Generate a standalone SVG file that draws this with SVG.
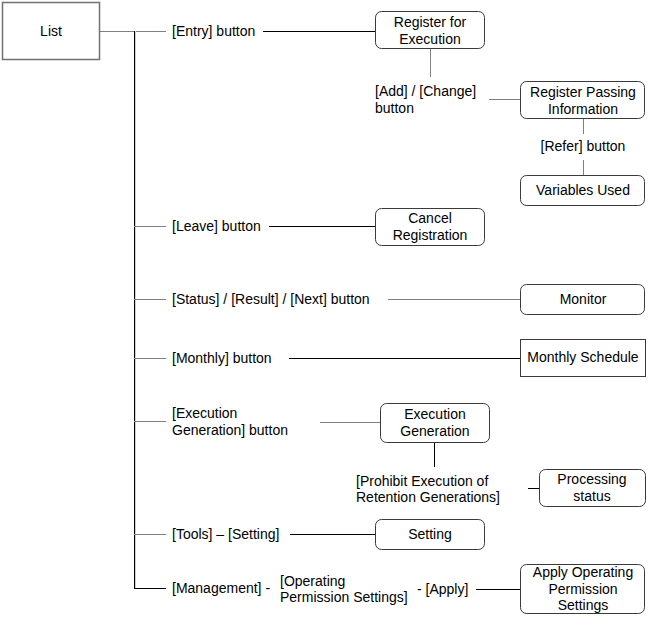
<svg xmlns="http://www.w3.org/2000/svg" width="651" height="625" viewBox="0 0 651 625">
<style>
text{font-family:"Liberation Sans",Arial,sans-serif;font-size:14px;fill:#000}
.c{text-anchor:middle}
.box{fill:#fff;stroke:#3a3a3a;stroke-width:1}
.g{stroke:#808080;stroke-width:1;fill:none}
.k{stroke:#000;stroke-width:1;fill:none}
</style>
<rect width="651" height="625" fill="#fff"/>
<g id="connectors">
<line class="g" x1="100" y1="31.5" x2="166" y2="31.5"/>
<line class="k" x1="134.5" y1="31" x2="134.5" y2="589"/>
<line x1="135.5" y1="31" x2="135.5" y2="589" stroke="#d0d0d0" stroke-width="1"/>
<line class="g" x1="134" y1="226.5" x2="166" y2="226.5"/>
<line class="g" x1="134" y1="299.5" x2="166" y2="299.5"/>
<line class="g" x1="134" y1="358.5" x2="166" y2="358.5"/>
<line class="g" x1="134" y1="421.5" x2="166" y2="421.5"/>
<line class="g" x1="134" y1="534.5" x2="166" y2="534.5"/>
<line class="k" x1="134" y1="588.5" x2="166" y2="588.5"/>
<line class="k" x1="263" y1="31.5" x2="375" y2="31.5"/>
<line class="g" x1="430.5" y1="49" x2="430.5" y2="77"/>
<line class="g" x1="489" y1="99.5" x2="520" y2="99.5"/>
<line class="g" x1="583.5" y1="118" x2="583.5" y2="134"/>
<line class="g" x1="583.5" y1="160" x2="583.5" y2="175"/>
<line class="k" x1="269" y1="226.5" x2="375" y2="226.5"/>
<line class="g" x1="388" y1="299.5" x2="520" y2="299.5"/>
<line class="k" x1="289" y1="358.5" x2="520" y2="358.5"/>
<line class="g" x1="320" y1="422.5" x2="380" y2="422.5"/>
<line class="k" x1="434.5" y1="442" x2="434.5" y2="467"/>
<line class="k" x1="528" y1="488.5" x2="539" y2="488.5"/>
<line class="k" x1="290" y1="534.5" x2="375" y2="534.5"/>
<line class="k" x1="476" y1="589.5" x2="520" y2="589.5"/>
</g>
<g id="list">
<rect x="2.5" y="2.5" width="97" height="57" fill="#fff" stroke="#707070" stroke-width="1.5"/>
<text class="c" x="51" y="36">List</text>
</g>
<g id="lbl-entry"><text x="172" y="36">[Entry] button</text></g>
<g id="register-exec">
<rect class="box" x="375.5" y="11.5" width="109" height="37" rx="6"/>
<text class="c" x="430" y="27">Register for</text>
<text class="c" x="430" y="44">Execution</text>
</g>
<g id="lbl-add"><text x="375" y="96">[Add] / [Change]</text><text x="375" y="113">button</text></g>
<g id="register-passing">
<rect class="box" x="520.5" y="81.5" width="124" height="37" rx="6"/>
<text class="c" x="583" y="97">Register Passing</text>
<text class="c" x="583" y="114">Information</text>
</g>
<g id="lbl-refer"><text class="c" x="583" y="151">[Refer] button</text></g>
<g id="variables">
<rect class="box" x="520.5" y="175.5" width="124" height="30" rx="6"/>
<text class="c" x="583" y="195">Variables Used</text>
</g>
<g id="lbl-leave"><text x="172" y="231">[Leave] button</text></g>
<g id="cancel">
<rect class="box" x="375.5" y="208.5" width="109" height="37" rx="6"/>
<text class="c" x="430" y="223">Cancel</text>
<text class="c" x="430" y="240">Registration</text>
</g>
<g id="lbl-status"><text x="172" y="304">[Status] / [Result] / [Next] button</text></g>
<g id="monitor">
<rect class="box" x="520.5" y="284.5" width="124" height="30" rx="6"/>
<text class="c" x="583" y="304">Monitor</text>
</g>
<g id="lbl-monthly"><text x="172" y="363">[Monthly] button</text></g>
<g id="monthly">
<rect class="box" x="520.5" y="339.5" width="125" height="37"/>
<text class="c" x="583" y="362">Monthly Schedule</text>
</g>
<g id="lbl-execgen"><text x="172" y="418">[Execution</text><text x="172" y="435">Generation] button</text></g>
<g id="execgen">
<rect class="box" x="380.5" y="403.5" width="109" height="39" rx="6"/>
<text class="c" x="435" y="419">Execution</text>
<text class="c" x="435" y="436">Generation</text>
</g>
<g id="lbl-prohibit"><text x="356" y="486">[Prohibit Execution of</text><text x="356" y="502">Retention Generations]</text></g>
<g id="processing">
<rect class="box" x="539.5" y="469.5" width="106" height="37" rx="6"/>
<text class="c" x="592" y="484">Processing</text>
<text class="c" x="592" y="501">status</text>
</g>
<g id="lbl-tools"><text x="172" y="539">[Tools] – [Setting]</text></g>
<g id="setting">
<rect class="box" x="375.5" y="519.5" width="109" height="30" rx="6"/>
<text class="c" x="430" y="539">Setting</text>
</g>
<g id="lbl-management">
<text x="172" y="593">[Management] -</text>
<text x="280" y="586">[Operating</text>
<text x="280" y="602">Permission Settings]</text>
<text x="417" y="594">- [Apply]</text>
</g>
<g id="apply">
<rect class="box" x="520.5" y="564.5" width="124" height="49" rx="6"/>
<text class="c" x="583" y="577">Apply Operating</text>
<text class="c" x="583" y="594">Permission</text>
<text class="c" x="583" y="610">Settings</text>
</g>
</svg>
